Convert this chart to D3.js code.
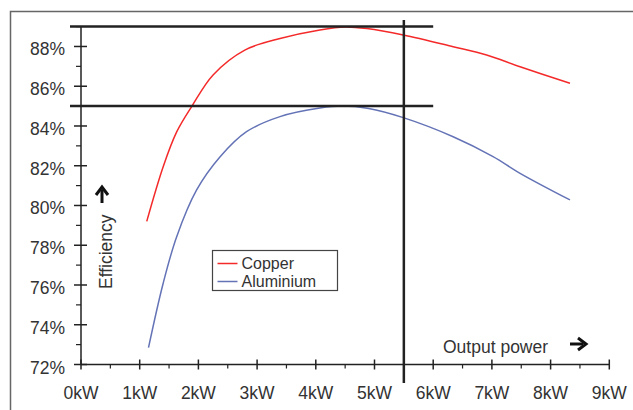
<!DOCTYPE html>
<html>
<head>
<meta charset="utf-8">
<script src="https://cdn.jsdelivr.net/npm/d3@7"></script>
<style>
  body { margin: 0; background: #fff; }
  text { font-family: "Liberation Sans", Arial, sans-serif; fill: #333; }
</style>
</head>
<body>
<div id="chart"></div>
<script>
// data: output power (kW) and efficiency (%)
const copperKW  = [1.12, 1.40, 1.63, 1.89, 2.25, 2.79, 3.39, 4.07, 4.5, 4.87, 5.49, 6.34, 6.91, 7.48, 8.33];
const copperEff = [79.2, 81.95, 83.7, 85.0, 86.57, 87.82, 88.4, 88.83, 88.98, 88.9, 88.58, 87.99, 87.57, 86.98, 86.15];
const aluKW  = [1.15, 1.40, 1.63, 1.97, 2.37, 2.82, 3.39, 4.07, 4.45, 4.9, 5.49, 6.34, 7.02, 7.48, 8.33];
const aluEff = [72.85, 76.09, 78.43, 80.78, 82.45, 83.71, 84.47, 84.9, 85.0, 84.88, 84.42, 83.46, 82.46, 81.62, 80.28];
const series = [
  { name: 'Copper', kw: copperKW, eff: copperEff, color: '#f42a2a' },
  { name: 'Aluminium', kw: aluKW, eff: aluEff, color: '#6473b6' }
];
const xTicks = [0, 1, 2, 3, 4, 5, 6, 7, 8, 9];
const yTicks = [72, 74, 76, 78, 80, 82, 84, 86, 88];
const refEff = [89, 85];   // horizontal marker lines
const refKW = 5.5;         // vertical marker line

const svgW = 633, svgH = 410;
const svg = d3.select('#chart').append('svg')
  .attr('width', svgW)
  .attr('height', svgH);

const x = d3.scaleLinear().domain([0, 9]).range([81, 609.3]);
const y = d3.scaleLinear().domain([72, 89]).range([364.5, 26.6]);

// outer frame (top and left edges visible)
svg.append('path')
  .attr('d', `M10.5,${svgH}V11.5H${svgW}`)
  .attr('fill', 'none').attr('stroke', '#666').attr('stroke-width', 1.5);

const axisColor = '#222';

// y axis line + ticks
svg.append('line')
  .attr('x1', x(0)).attr('x2', x(0))
  .attr('y1', y(72)).attr('y2', y(89))
  .attr('stroke', axisColor).attr('stroke-width', 1.5);
svg.selectAll('.ymaj').data(yTicks).join('line')
  .attr('x1', x(0) - 7).attr('x2', x(0) + 6)
  .attr('y1', d => y(d)).attr('y2', d => y(d))
  .attr('stroke', axisColor).attr('stroke-width', 1.5);
svg.selectAll('.ymin').data(yTicks.map(d => d + 1)).join('line')
  .attr('x1', x(0) - 5).attr('x2', x(0))
  .attr('y1', d => y(d)).attr('y2', d => y(d))
  .attr('stroke', axisColor).attr('stroke-width', 1.2);
svg.selectAll('.ylab').data(yTicks).join('text')
  .attr('x', 65).attr('y', d => y(d) + 9)
  .attr('text-anchor', 'end')
  .style('font-size', '17.5px')
  .text(d => d + '%');

// x axis line + ticks
svg.append('line')
  .attr('x1', x(0)).attr('x2', x(9))
  .attr('y1', y(72)).attr('y2', y(72))
  .attr('stroke', axisColor).attr('stroke-width', 1.5);
svg.selectAll('.xmaj').data(xTicks).join('line')
  .attr('x1', d => x(d)).attr('x2', d => x(d))
  .attr('y1', y(72) - 5).attr('y2', y(72) + 5)
  .attr('stroke', axisColor).attr('stroke-width', 1.5);
svg.selectAll('.xmin').data(xTicks.slice(0, -1).map(d => d + 0.5)).join('line')
  .attr('x1', d => x(d)).attr('x2', d => x(d))
  .attr('y1', y(72)).attr('y2', y(72) + 4)
  .attr('stroke', axisColor).attr('stroke-width', 1.2);
svg.selectAll('.xlab').data(xTicks).join('text')
  .attr('x', d => x(d)).attr('y', 399)
  .attr('text-anchor', 'middle')
  .style('font-size', '17.5px')
  .text(d => d + 'kW');

// curves
const line = d3.line()
  .x(d => x(d[0])).y(d => y(d[1]))
  .curve(d3.curveCatmullRom.alpha(0.5));
series.forEach(s => {
  svg.append('path')
    .datum(s.kw.map((k, i) => [k, s.eff[i]]))
    .attr('d', line)
    .attr('fill', 'none')
    .attr('stroke', s.color)
    .attr('stroke-width', 1.5);
});

// marker lines
svg.selectAll('.href').data(refEff).join('line')
  .attr('x1', 70).attr('x2', x(6))
  .attr('y1', d => y(d)).attr('y2', d => y(d))
  .attr('stroke', '#222').attr('stroke-width', 2.5);
svg.append('line')
  .attr('x1', x(refKW)).attr('x2', x(refKW))
  .attr('y1', 20).attr('y2', 383)
  .attr('stroke', '#222').attr('stroke-width', 2.5);

// legend
const legend = svg.append('g').attr('transform', 'translate(212.5,250.5)');
legend.append('rect')
  .attr('width', 125).attr('height', 40)
  .attr('fill', '#fff').attr('stroke', '#444').attr('stroke-width', 1.2);
series.forEach((s, i) => {
  const row = legend.append('g').attr('transform', `translate(0,${13 + i * 18})`);
  row.append('line').attr('x1', 5).attr('x2', 25)
    .attr('stroke', s.color).attr('stroke-width', 1.5);
  row.append('text').attr('x', 29).attr('y', 5.5)
    .style('font-size', '16px').text(s.name);
});

// axis titles
svg.append('text')
  .attr('transform', 'translate(112,289) rotate(-90)')
  .style('font-size', '17.5px')
  .text('Efficiency');
svg.append('text')
  .attr('x', 443).attr('y', 353)
  .style('font-size', '17.5px')
  .text('Output power');

// bold arrows next to the axis titles
function arrow(cx, cy, angle) {
  const g = svg.append('g')
    .attr('transform', `translate(${cx},${cy}) rotate(${angle})`);
  g.append('path')
    .attr('d', 'M-8,0H5')
    .attr('stroke', '#111')
    .attr('stroke-width', 3);
  g.append('path')
    .attr('d', 'M0,-6L8,0L0,6')
    .attr('fill', 'none')
    .attr('stroke', '#111')
    .attr('stroke-width', 3);
}
arrow(578, 344, 0);
arrow(102, 195, -90);
</script>
</body>
</html>
